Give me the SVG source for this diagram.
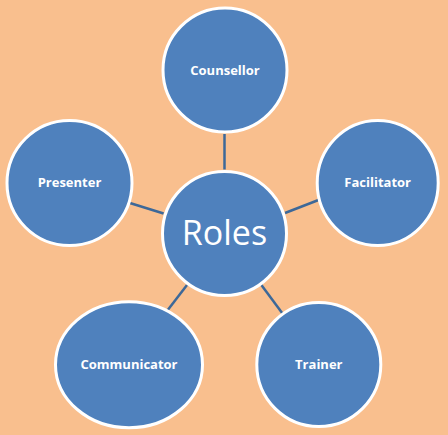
<svg xmlns="http://www.w3.org/2000/svg" width="448" height="435" viewBox="0 0 448 435">
<style>
.node{fill:#4F81BD;stroke:#FFFFFF;stroke-width:3}
.lbl{fill:#FFFFFF;font-family:"Open Sans","Noto Sans","DejaVu Sans",sans-serif;font-weight:bold;font-size:13px;text-anchor:middle}
.big{fill:#FFFFFF;font-family:"Open Sans","Liberation Sans",sans-serif;font-size:34px;text-anchor:middle}
.conn{stroke:#3D6898;stroke-width:2.5;fill:none}
</style>
<rect width="448" height="435" fill="#F9BF8E"/>
<g id="connectors">
<line class="conn" x1="224.5" y1="134" x2="224.5" y2="169.5"/>
<line class="conn" x1="163.6" y1="213.5" x2="129.9" y2="203"/>
<line class="conn" x1="285" y1="213" x2="318.5" y2="200"/>
<line class="conn" x1="187" y1="285" x2="167" y2="311"/>
<line class="conn" x1="261" y1="284.5" x2="282.5" y2="313.5"/>
</g>
<g id="roles"><circle class="node" cx="224.5" cy="233.5" r="62"/><text class="big" x="224.5" y="245">Roles</text></g>
<g id="counsellor"><circle class="node" cx="225" cy="70" r="62"/><text class="lbl" x="225" y="75">Counsellor</text></g>
<g id="presenter"><circle class="node" cx="69.5" cy="183" r="62.5"/><text class="lbl" x="69.5" y="186.5">Presenter</text></g>
<g id="facilitator"><ellipse class="node" cx="377.7" cy="183" rx="60.5" ry="62.5"/><text class="lbl" x="377.7" y="186.5">Facilitator</text></g>
<g id="communicator"><ellipse class="node" cx="129" cy="364.7" rx="73.5" ry="63"/><text class="lbl" x="129" y="369">Communicator</text></g>
<g id="trainer"><circle class="node" cx="318.8" cy="364.5" r="62"/><text class="lbl" x="318.8" y="369">Trainer</text></g>
</svg>
